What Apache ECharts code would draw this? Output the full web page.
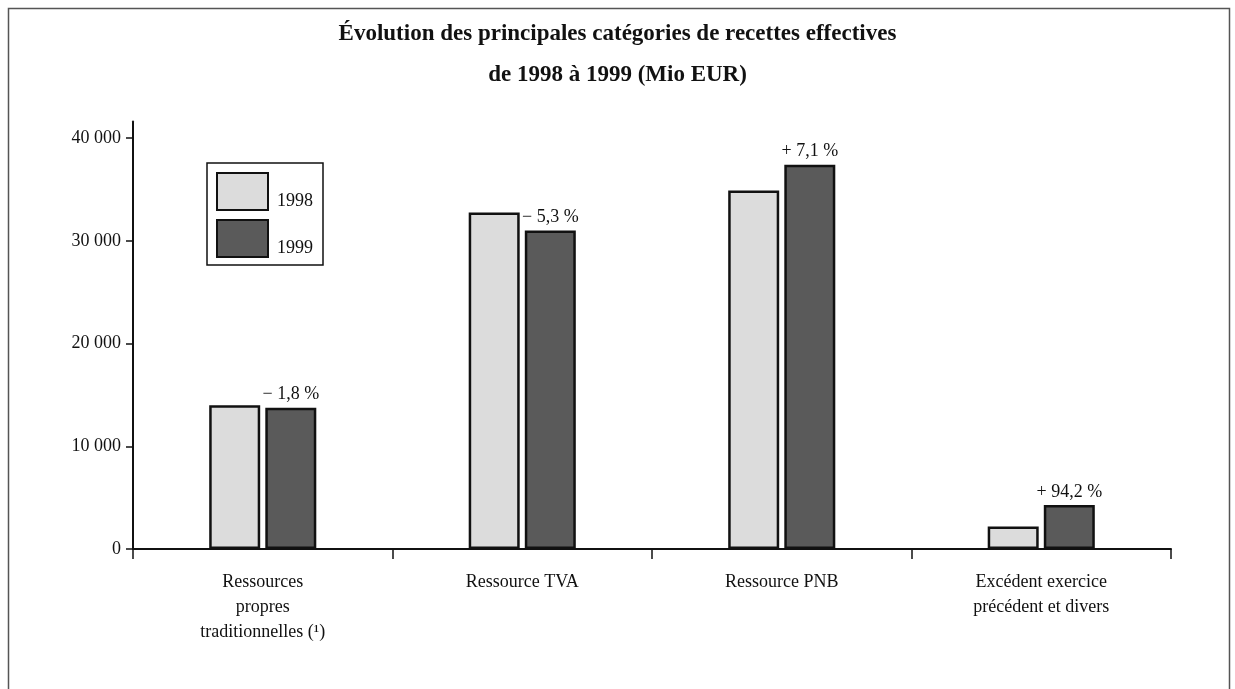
<!DOCTYPE html>
<html>
<head>
<meta charset="utf-8">
<script src="https://cdn.jsdelivr.net/npm/echarts@6/dist/echarts.min.js"></script>
<style>
  html, body { margin: 0; padding: 0; background: #fff; }
  #chart { width: 1235px; height: 689px; }
</style>
</head>
<body>
<div id="chart"></div>
<script>
// données (Mio EUR)
var categories = [
    'Ressources\npropres\ntraditionnelles (\u00b9)',
    'Ressource TVA',
    'Ressource PNB',
    'Excédent exercice\nprécédent et divers'
];
var years = ['1998', '1999'];
var values1998 = [14000, 32750, 34900, 2200];
var values1999 = [13750, 31010, 37400, 4280];
var variations = ['\u2212 1,8 %', '\u2212 5,3 %', '+ 7,1 %', '+ 94,2 %'];
var yTicks = [0, 10000, 20000, 30000, 40000];

var serif = '"Liberation Serif", "DejaVu Serif", serif';

var chart = echarts.init(document.getElementById('chart'));

var option = {
    backgroundColor: '#fff',
    animation: false,
    title: {
        text: 'Évolution des principales catégories de recettes effectives\nde 1998 à 1999 (Mio EUR)',
        left: 'center',
        top: 9,
        textStyle: {
            fontFamily: serif,
            fontWeight: 'bold',
            fontSize: 23,
            lineHeight: 41,
            color: '#111'
        }
    },
    legend: {
        data: years,
        orient: 'vertical',
        left: 207,
        top: 163,
        padding: [9, 10, 7, 9],
        itemGap: 8,
        itemWidth: 51,
        itemHeight: 37,
        icon: 'rect',
        borderColor: '#111',
        borderWidth: 1.5,
        formatter: function (name) { return '{t|' + name + '}'; },
        textStyle: {
            fontFamily: serif,
            fontSize: 18,
            color: '#111',
            rich: {
                t: {
                    fontFamily: serif,
                    fontSize: 18,
                    color: '#111',
                    padding: [20, 0, 0, 4]
                }
            }
        }
    },
    grid: {
        left: 133,
        right: 64,
        top: 121.6,
        bottom: 140,
        containLabel: false
    },
    xAxis: {
        type: 'category',
        data: categories,
        boundaryGap: true,
        axisLine: { lineStyle: { color: '#111', width: 2 } },
        axisTick: { show: true, length: 10, lineStyle: { color: '#111', width: 1.5 } },
        axisLabel: {
            interval: 0,
            margin: 21,
            fontFamily: serif,
            fontSize: 18,
            lineHeight: 25,
            color: '#111'
        }
    },
    yAxis: {
        type: 'value',
        min: 0,
        max: 41600,
        interval: 10000,
        splitLine: { show: false },
        axisLine: { show: true, lineStyle: { color: '#111', width: 2 } },
        axisTick: {
            show: true,
            length: 7,
            customValues: yTicks,
            lineStyle: { color: '#111', width: 1.5 }
        },
        axisLabel: {
            customValues: yTicks,
            margin: 12,
            fontFamily: serif,
            fontSize: 18,
            color: '#111',
            formatter: function (v) {
                return String(v).replace(/\B(?=(\d{3})+(?!\d))/g, ' ');
            }
        }
    },
    series: [
        {
            name: '1998',
            type: 'bar',
            data: values1998,
            barWidth: 51,
            barGap: '10%',
            itemStyle: { color: '#dcdcdc', borderColor: '#111', borderWidth: 2.5 }
        },
        {
            name: '1999',
            type: 'bar',
            data: values1999,
            barWidth: 51,
            itemStyle: { color: '#5a5a5a', borderColor: '#111', borderWidth: 2.5 },
            label: {
                show: true,
                position: 'top',
                distance: 4,
                fontFamily: serif,
                fontSize: 18,
                color: '#111',
                formatter: function (p) { return variations[p.dataIndex]; }
            }
        }
    ],
    graphic: [
        {
            type: 'rect',
            left: 6,
            top: 6,
            shape: { width: 1221, height: 720 },
            style: { fill: null, stroke: '#555', lineWidth: 1.5 },
            silent: true
        }
    ]
};

chart.setOption(option);
</script>
</body>
</html>
